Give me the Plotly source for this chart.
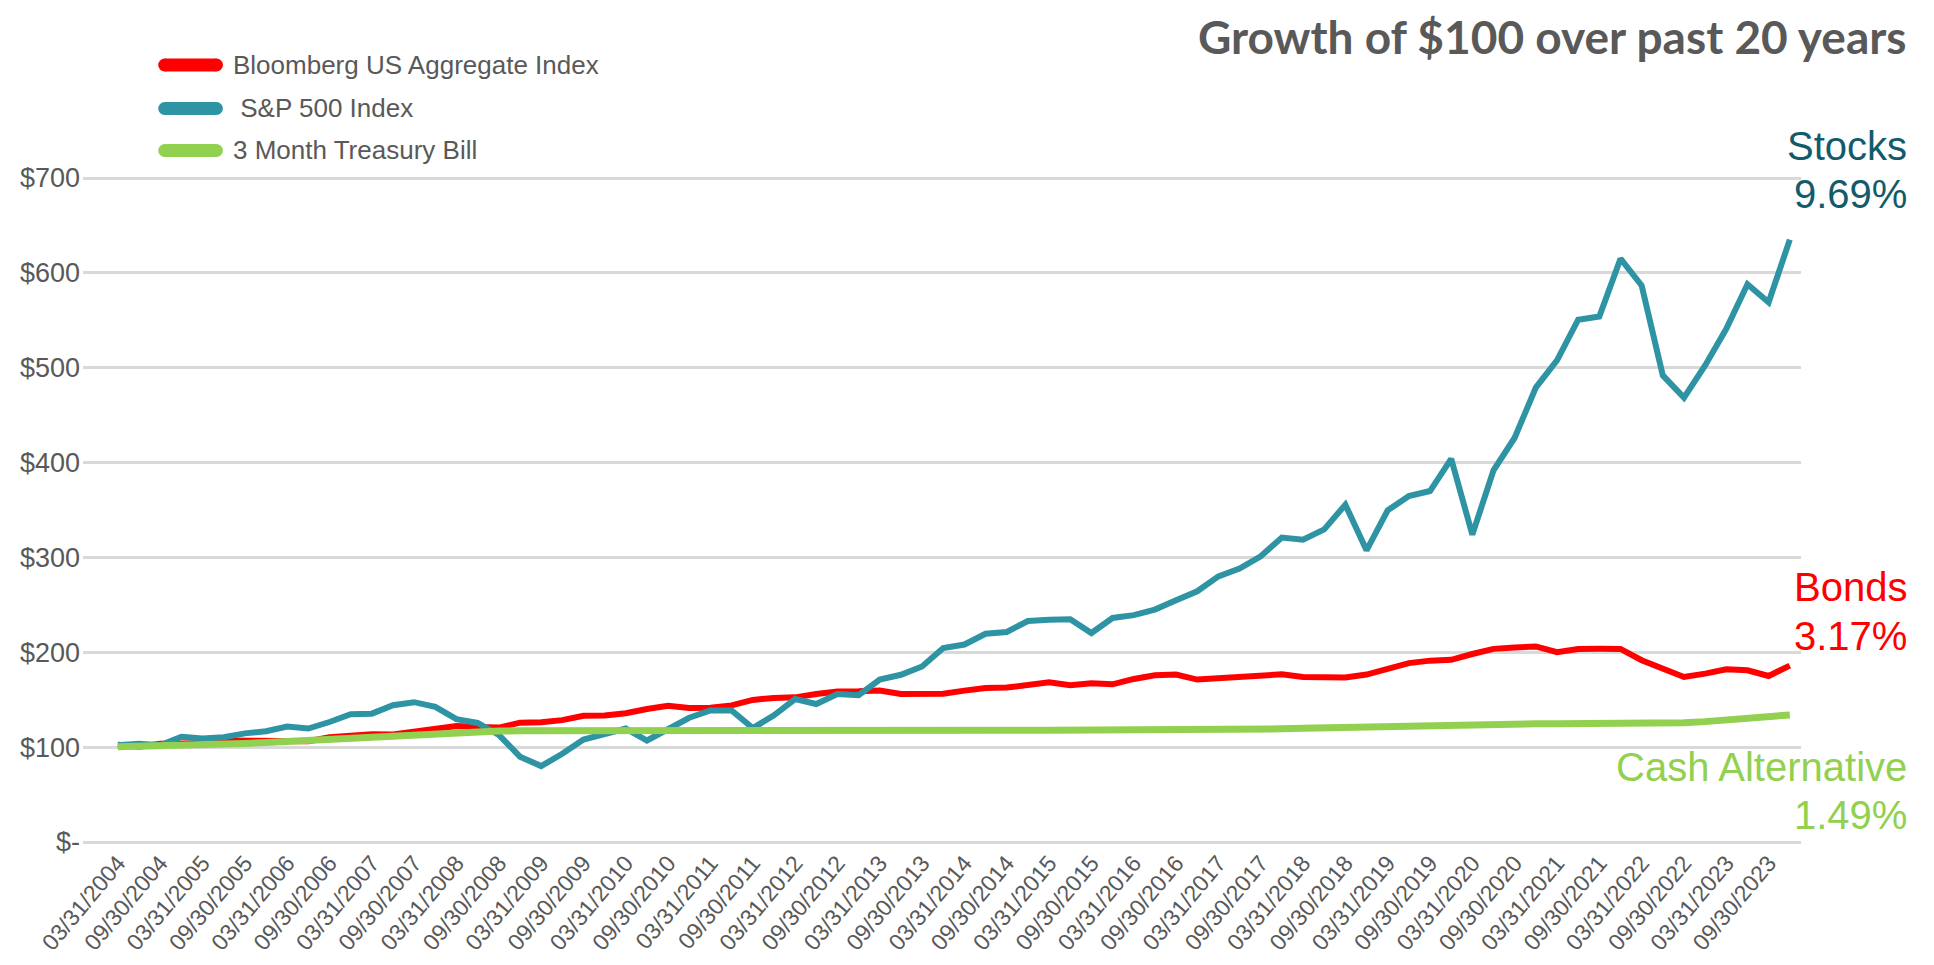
import plotly.graph_objects as go

# ---------------- data ----------------
dates = [
    "03/31/2004", "06/30/2004", "09/30/2004", "12/31/2004",
    "03/31/2005", "06/30/2005", "09/30/2005", "12/31/2005",
    "03/31/2006", "06/30/2006", "09/30/2006", "12/31/2006",
    "03/31/2007", "06/30/2007", "09/30/2007", "12/31/2007",
    "03/31/2008", "06/30/2008", "09/30/2008", "12/31/2008",
    "03/31/2009", "06/30/2009", "09/30/2009", "12/31/2009",
    "03/31/2010", "06/30/2010", "09/30/2010", "12/31/2010",
    "03/31/2011", "06/30/2011", "09/30/2011", "12/31/2011",
    "03/31/2012", "06/30/2012", "09/30/2012", "12/31/2012",
    "03/31/2013", "06/30/2013", "09/30/2013", "12/31/2013",
    "03/31/2014", "06/30/2014", "09/30/2014", "12/31/2014",
    "03/31/2015", "06/30/2015", "09/30/2015", "12/31/2015",
    "03/31/2016", "06/30/2016", "09/30/2016", "12/31/2016",
    "03/31/2017", "06/30/2017", "09/30/2017", "12/31/2017",
    "03/31/2018", "06/30/2018", "09/30/2018", "12/31/2018",
    "03/31/2019", "06/30/2019", "09/30/2019", "12/31/2019",
    "03/31/2020", "06/30/2020", "09/30/2020", "12/31/2020",
    "03/31/2021", "06/30/2021", "09/30/2021", "12/31/2021",
    "03/31/2022", "06/30/2022", "09/30/2022", "12/31/2022",
    "03/31/2023", "06/30/2023", "09/30/2023", "12/31/2023",
]

bonds = [
    102.5, 100.5, 103.5, 104.5, 104.0, 107.0, 106.5, 107.2,
    106.5, 106.3, 110.5, 112.0, 113.6, 113.4, 116.5, 119.8,
    122.3, 121.2, 120.6, 125.8, 126.2, 128.5, 133.0, 133.3,
    135.7, 140.2, 143.5, 141.3, 141.6, 144.0, 149.8, 151.9,
    152.5, 156.0, 158.6, 158.8, 159.6, 156.0, 156.2, 156.4,
    159.6, 162.4, 162.8, 166.0, 168.4, 165.2, 167.4, 166.2,
    171.9, 175.7, 176.5, 171.2, 172.6, 175.0, 176.5, 176.8,
    174.0, 173.5, 173.5, 176.5, 182.8, 188.6, 191.2, 192.0,
    198.2, 203.6, 205.0, 206.2, 200.2, 203.5, 203.6, 203.5,
    191.6, 182.8, 174.0, 177.5, 182.0, 181.0, 175.0, 186.0,
]

stocks = [
    102.0, 103.5, 102.0, 111.0, 109.0, 110.5, 114.5, 116.8,
    121.8, 119.6, 126.5, 134.7, 135.3, 144.2, 147.4, 142.4,
    129.5, 125.5, 113.0, 90.0, 80.0, 93.0, 108.0, 114.0,
    119.6, 107.0, 119.5, 131.0, 138.7, 138.7, 120.0, 133.5,
    150.7, 145.5, 156.0, 154.7, 171.3, 176.3, 185.0, 204.5,
    208.2, 219.5, 221.4, 233.0, 234.4, 234.8, 220.3, 236.2,
    239.2, 245.0, 254.8, 264.3, 280.1, 288.2, 301.2, 321.0,
    318.7, 329.6, 355.6, 307.5, 349.6, 364.7, 370.0, 404.0,
    324.0, 391.8, 426.2, 479.0, 507.7, 550.6, 554.0, 614.9,
    586.7, 491.9, 468.4, 502.4, 541.0, 588.0, 569.0, 635.0,
]

cash = [
    100.3, 100.6, 101.0, 101.5, 102.2, 103.0, 103.9, 104.8,
    105.9, 107.1, 108.4, 109.7, 111.0, 112.3, 113.6, 114.8,
    115.7, 116.3, 116.9, 117.2, 117.3, 117.4, 117.4, 117.5,
    117.5, 117.5, 117.6, 117.6, 117.6, 117.6, 117.7, 117.7,
    117.7, 117.7, 117.7, 117.8, 117.8, 117.8, 117.8, 117.8,
    117.8, 117.8, 117.8, 117.9, 117.9, 117.9, 117.9, 117.9,
    118.0, 118.1, 118.2, 118.3, 118.5, 118.7, 119.0, 119.3,
    119.8, 120.3, 120.9, 121.5, 122.2, 122.9, 123.5, 124.1,
    124.5, 124.5, 124.6, 124.6, 124.6, 124.6, 124.6, 124.6,
    124.7, 125.1, 125.7, 126.9, 128.3, 130.0, 131.7, 134.0,
]

series_names = ["Bloomberg US Aggregate Index", "S&P 500 Index", "3 Month Treasury Bill"]
legend_texts = ["Bloomberg US Aggregate Index", "&nbsp;S&P 500 Index", "3 Month Treasury Bill"]
series_colors = ["#FF0000", "#2E94A4", "#92D050"]

y_tick_vals = [0, 100, 200, 300, 400, 500, 600, 700]
y_tick_text = ["$-", "$100", "$200", "$300", "$400", "$500", "$600", "$700"]

# ---------------- layout geometry ----------------
# The page body adds an 8px margin, so the figure appears 8px in from the
# window's top-left; reference pixel positions are shifted by OFF.
OFF = 8
W, H = 1934, 965
PLOT_L, PLOT_R = 76, 1801      # reference pixels
PLOT_T, PLOT_B = 176, 844
ML = PLOT_L - OFF
MT = PLOT_T - OFF
PW = PLOT_R - PLOT_L
PH = PLOT_B - PLOT_T
MR = W - ML - PW
MB = H - MT - PH


def px_x(p):
    return (p - PLOT_L) / PW


def px_y(p):
    return (PLOT_B - p) / PH


x_idx = list(range(len(dates)))
x_tick_vals = x_idx[::2]
x_tick_text = dates[::2]

fig = go.Figure()
for vals, name, col, w in zip([bonds, stocks, cash], series_names, series_colors, [6, 6, 7]):
    fig.add_trace(go.Scatter(
        x=x_idx, y=vals, mode="lines", name=name,
        line=dict(color=col, width=w), showlegend=False,
    ))

grey = "#595959"
shapes = []
annotations = []

# manual legend (rounded swatches)
legend_rows = [65, 108.5, 150.5]
for row_y, col, txt in zip(legend_rows, series_colors, legend_texts):
    x0, x1, r = 158, 210, 6.5
    shapes.append(dict(type="rect", xref="paper", yref="paper",
                       x0=px_x(x0), x1=px_x(x1), y0=px_y(row_y + r), y1=px_y(row_y - r),
                       fillcolor=col, line=dict(width=0), layer="above"))
    for cx in (x0, x1):
        shapes.append(dict(type="circle", xref="paper", yref="paper",
                           x0=px_x(cx - r), x1=px_x(cx + r), y0=px_y(row_y + r), y1=px_y(row_y - r),
                           fillcolor=col, line=dict(width=0), layer="above"))
    annotations.append(dict(text=txt, xref="paper", yref="paper", x=px_x(225), y=px_y(row_y),
                            xanchor="left", yanchor="middle", showarrow=False,
                            font=dict(family="Liberation Sans, Arial", size=26, color=grey)))

# title
annotations.append(dict(text="<b>Growth of $100 over past 20 years</b>", xref="paper", yref="paper",
                        x=px_x(1909), y=px_y(36), xanchor="right", yanchor="middle", showarrow=False,
                        font=dict(family="Lato, Open Sans", size=46, color=grey)))

# right-side labels
side_labels = [
    ("Stocks", 145.5, "#125B6B"), ("9.69%", 193.6, "#125B6B"),
    ("Bonds", 587, "#FF0000"), ("3.17%", 636, "#FF0000"),
    ("Cash Alternative", 767, "#92D050"), ("1.49%", 815, "#92D050"),
]
for txt, yy, col in side_labels:
    annotations.append(dict(text=txt, xref="paper", yref="paper", x=px_x(1909), y=px_y(yy),
                            xanchor="right", yanchor="middle", showarrow=False,
                            font=dict(family="Liberation Sans, Arial", size=40, color=col)))

# axis ranges: $0 at ref y=842, $700 at ref y=178; first point at ref x=111, 21.25px per quarter
px_per_unit = 664 / 700
y_lo = -(PLOT_B - 842) / px_per_unit
y_hi = 700 + (178 - PLOT_T) / px_per_unit
x_lo = -(111 - PLOT_L) / 21.25
x_hi = (PLOT_R - 111) / 21.25

fig.update_layout(
    width=W, height=H,
    margin=dict(l=ML, r=MR, t=MT, b=MB, pad=0),
    paper_bgcolor="white", plot_bgcolor="white",
    font=dict(family="Liberation Sans, Arial", color=grey),
    shapes=shapes, annotations=annotations,
    showlegend=False,
    xaxis=dict(range=[x_lo, x_hi], tickmode="array", tickvals=x_tick_vals, ticktext=x_tick_text,
               tickangle=-50, tickfont=dict(size=23, color=grey), showgrid=False,
               zeroline=False, showline=False, ticks=""),
    yaxis=dict(range=[y_lo, y_hi], tickmode="array", tickvals=y_tick_vals, ticktext=y_tick_text,
               tickfont=dict(size=27, color=grey), showgrid=True, gridcolor="#D9D9D9",
               gridwidth=2.5, zeroline=False, showline=False, ticks="", ticklabelstandoff=2),
)

fig.write_html("out.html")
